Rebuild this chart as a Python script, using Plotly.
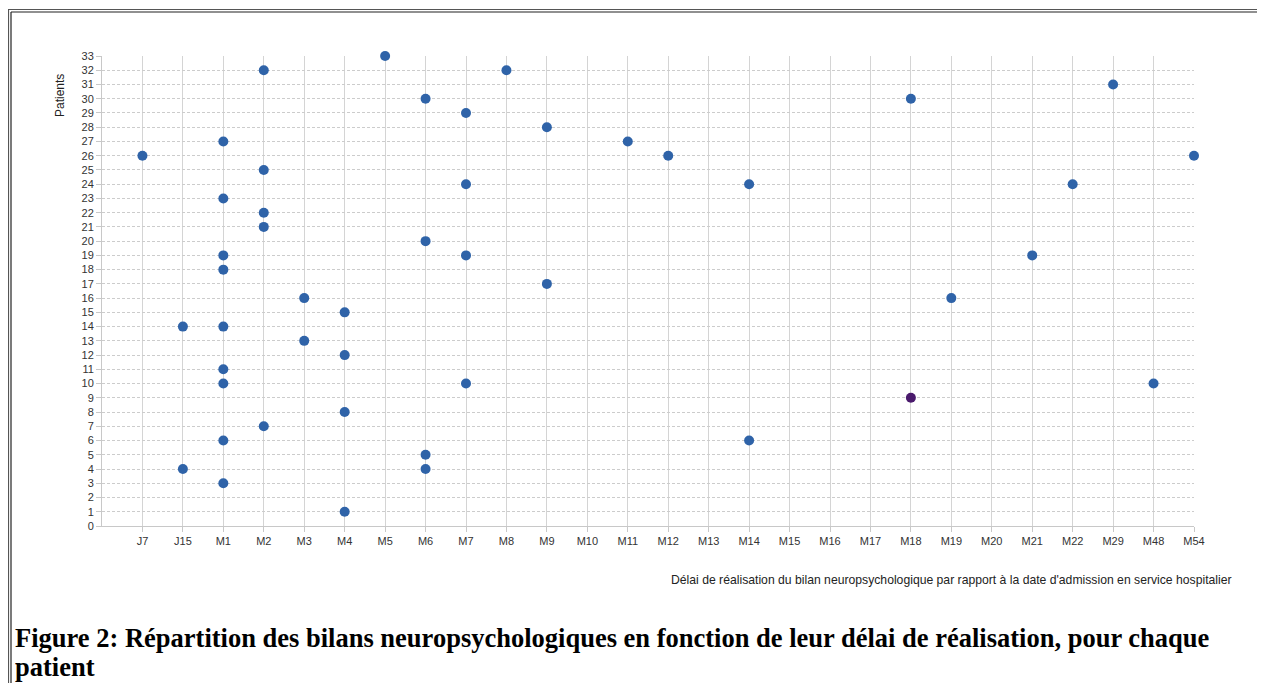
import plotly.graph_objects as go

categories = ["J7", "J15", "M1", "M2", "M3", "M4", "M5", "M6", "M7", "M8", "M9", "M10",
              "M11", "M12", "M13", "M14", "M15", "M16", "M17", "M18", "M19", "M20",
              "M21", "M22", "M29", "M48", "M54"]

delays = ["J7",
          "J15", "J15",
          "M1", "M1", "M1", "M1", "M1", "M1", "M1", "M1", "M1",
          "M2", "M2", "M2", "M2", "M2",
          "M3", "M3",
          "M4", "M4", "M4", "M4",
          "M5",
          "M6", "M6", "M6", "M6",
          "M7", "M7", "M7", "M7",
          "M8",
          "M9", "M9",
          "M11",
          "M12",
          "M14", "M14",
          "M18",
          "M19",
          "M21",
          "M22",
          "M29",
          "M48",
          "M54"]
patients = [26,
            14, 4,
            27, 23, 19, 18, 14, 11, 10, 6, 3,
            32, 25, 22, 21, 7,
            16, 13,
            15, 12, 8, 1,
            33,
            30, 20, 5, 4,
            29, 24, 19, 10,
            32,
            28, 17,
            27,
            26,
            24, 6,
            30,
            16,
            19,
            24,
            31,
            10,
            26]

highlight_delays = ["M18"]
highlight_patients = [9]

y_ticks = list(range(0, 34))

x_title = "Délai de réalisation du bilan neuropsychologique par rapport à la date d'admission en service hospitalier"
y_title = "Patients"
caption_line1 = "<b>Figure 2: Répartition des bilans neuropsychologiques en fonction de leur délai de réalisation, pour chaque</b>"
caption_line2 = "<b>patient</b>"

# page body has an 8px margin: figure is placed at (8, 8) of the window
OFF = 8
WIN_W, WIN_H = 1265, 683
W, H = WIN_W - OFF, WIN_H - OFF
# plot area in window pixels
L, R, T, B = 102, 1194, 56, 526

fig = go.Figure()
fig.add_trace(go.Scatter(x=delays, y=patients, mode="markers",
                         marker=dict(size=10, color="#2f63a8"),
                         cliponaxis=False, showlegend=False))
fig.add_trace(go.Scatter(x=highlight_delays, y=highlight_patients, mode="markers",
                         marker=dict(size=10, color="#4a1a6c"),
                         cliponaxis=False, showlegend=False))

fig.update_xaxes(type="category", categoryorder="array", categoryarray=categories,
                 range=[-1, len(categories) - 1],
                 showgrid=True, gridcolor="#d4d4d4", gridwidth=1,
                 showline=True, linecolor="#c8c8c8", linewidth=1,
                 ticks="outside", ticklen=5, tickcolor="#c8c8c8",
                 tickfont=dict(family="Liberation Sans", size=11, color="#333333"),
                 zeroline=False, fixedrange=True)
fig.update_yaxes(range=[0, 33], tickvals=y_ticks,
                 showgrid=True, gridcolor="#cccccc", gridwidth=1, griddash="3px,2px",
                 showline=True, linecolor="#c8c8c8", linewidth=1,
                 ticks="outside", ticklen=5, tickcolor="#c8c8c8",
                 tickfont=dict(family="Liberation Sans", size=11, color="#333333"),
                 zeroline=False, fixedrange=True)


def px_x(p):
    return (p - L) / (R - L)


def px_y(p):
    return (B - p) / (B - T)


annotations = [
    dict(text=x_title, xref="paper", yref="paper", x=px_x(1234), y=px_y(580),
         xanchor="right", yanchor="middle", showarrow=False,
         font=dict(family="Liberation Sans", size=12.2, color="#222222")),
    dict(text=y_title, xref="paper", yref="paper", x=px_x(60), y=px_y(96),
         xanchor="center", yanchor="middle", showarrow=False, textangle=-90,
         font=dict(family="Liberation Sans", size=12, color="#222222")),
    dict(text=caption_line1, xref="paper", yref="paper", x=px_x(13), y=px_y(638),
         xanchor="left", yanchor="middle", align="left", showarrow=False,
         font=dict(family="Liberation Serif", size=26.5, color="#000000")),
    dict(text=caption_line2, xref="paper", yref="paper", x=px_x(13), y=px_y(667),
         xanchor="left", yanchor="middle", align="left", showarrow=False,
         font=dict(family="Liberation Serif", size=26.5, color="#000000")),
]

shapes = [
    # top double border
    dict(type="line", xref="paper", yref="paper", x0=px_x(8), x1=px_x(1270), y0=px_y(9.5), y1=px_y(9.5),
         line=dict(color="#555555", width=1.2)),
    dict(type="line", xref="paper", yref="paper", x0=px_x(11), x1=px_x(1270), y0=px_y(12), y1=px_y(12),
         line=dict(color="#222222", width=1.2)),
    # left double border
    dict(type="line", xref="paper", yref="paper", x0=px_x(8.5), x1=px_x(8.5), y0=px_y(9.5), y1=px_y(690),
         line=dict(color="#555555", width=1.2)),
    dict(type="line", xref="paper", yref="paper", x0=px_x(11), x1=px_x(11), y0=px_y(12), y1=px_y(690),
         line=dict(color="#222222", width=1.2)),
]

fig.update_layout(width=W, height=H, autosize=False,
                  margin=dict(l=L - OFF, r=WIN_W - R, t=T - OFF, b=WIN_H - B),
                  paper_bgcolor="white", plot_bgcolor="white",
                  annotations=annotations, shapes=shapes)

fig.write_html("out.html", config={"displayModeBar": False})
